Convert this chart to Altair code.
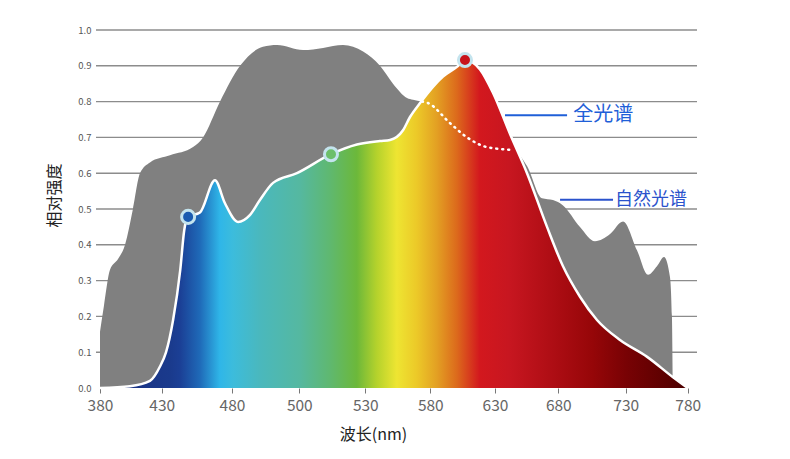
import altair as alt
import pandas as pd

# ---------------- data ----------------
tick_nm = [380, 430, 480, 500, 530, 580, 630, 680, 730, 780]
y_ticks = [0.1, 0.2, 0.3, 0.4, 0.5, 0.6, 0.7, 0.8, 0.9, 1.0]

natural_nm = [380.0, 383.2, 388.1, 394.6, 400.3, 406.7, 412.4, 420.5, 435.9, 452.3,
              459.4, 471.5, 482.4, 489.2, 493.4, 501.7, 510.8, 519.9, 529.0, 541.3,
              551.3, 562.1, 566.7, 573.6, 578.2, 595.2, 608.4, 623.8, 644.2, 655.3,
              667.1, 675.8, 683.5, 696.1, 707.2, 718.4, 728.0, 739.1, 748.0, 755.2,
              760.9, 765.7, 767.3, 768.1]
natural_val = [0.157, 0.23, 0.33, 0.36, 0.40, 0.50, 0.60, 0.63, 0.65, 0.673,
               0.70, 0.80, 0.90, 0.953, 0.958, 0.944, 0.95, 0.958, 0.94, 0.90,
               0.85, 0.81, 0.805, 0.80, 0.796, 0.74, 0.70, 0.673, 0.665, 0.62,
               0.53, 0.525, 0.51, 0.45, 0.41, 0.43, 0.465, 0.385, 0.316, 0.34,
               0.366, 0.31, 0.2, 0.0]

full_nm = [380.0, 404.3, 420.5, 428.6, 433.1, 438.1, 443.2, 446.0, 448.8, 457.2,
           467.9, 475.0, 481.8, 485.3, 488.3, 492.2, 499.3, 514.4, 526.2, 541.3,
           549.0, 559.0, 564.4, 572.1, 589.8, 600.6, 606.8, 618.4, 628.5, 641.8,
           655.3, 671.1, 683.5, 696.1, 708.7, 725.8, 747.3, 768.2, 780.0]
full_val = [0.0, 0.005, 0.02, 0.06, 0.10, 0.19, 0.33, 0.44, 0.478, 0.49,
            0.58, 0.516, 0.464, 0.483, 0.525, 0.573, 0.60, 0.653, 0.68, 0.69,
            0.693, 0.72, 0.757, 0.796, 0.87, 0.897, 0.916, 0.89, 0.824, 0.71,
            0.60, 0.45, 0.34, 0.255, 0.19, 0.134, 0.087, 0.03, 0.0]

marker_nm = [448.8, 514.4, 606.8]
marker_val = [0.478, 0.653, 0.916]

ann_text = ["全光谱", "自然光谱"]
ann_line_start = [637.9, 681.3]
ann_line_end = [686.5, 720.6]
ann_text_nm = [691.0, 722.0]
ann_val = [0.762, 0.526]

# ---------------- styles ----------------
FONT = "Noto Sans CJK SC"
marker_fill = ["#1a5bb0", "#6cbf6a", "#c8141c"]
ann_font_size = [20, 18]
ann_color = ["#1f5fd8", "#2a52cc"]
tick_px = [0, 61.7, 132, 199.3, 265.3, 330.3, 395, 458.3, 525.7, 587.7]

grad_stops = [
    (0.0, "#1a2e80"), (0.119, "#1a3a8c"), (0.136, "#1b3f95"), (0.170, "#1f6ab8"),
    (0.204, "#2fb6e8"), (0.226, "#3cbcdc"), (0.272, "#4ab8bd"), (0.340, "#55b8a0"),
    (0.391, "#5fb870"), (0.437, "#6cb83a"), (0.471, "#b5d22c"), (0.505, "#eee532"),
    (0.539, "#ecc928"), (0.573, "#e3a023"), (0.607, "#dc6a1c"), (0.646, "#d3181e"),
    (0.697, "#c71620"), (0.782, "#aa0c12"), (0.838, "#960608"), (0.896, "#780204"),
    (0.969, "#5a0000"), (1.0, "#4a0000"),
]
gradient = alt.Gradient(
    gradient="linear",
    stops=[alt.GradientStop(offset=o, color=c) for o, c in grad_stops],
    x1=0, x2=1, y1=0, y2=0,
)

# ---------------- tables ----------------
natural_df = pd.DataFrame({"nm": natural_nm, "v": natural_val})
full_df = pd.DataFrame({"nm": full_nm, "v": full_val})
marker_df = pd.DataFrame({"nm": marker_nm, "v": marker_val, "fill": marker_fill})
grid_df = pd.DataFrame({"v": y_ticks})
ann_df = pd.DataFrame({"nm": ann_line_start, "nm2": ann_line_end, "tnm": ann_text_nm,
                       "v": ann_val, "label": ann_text, "fs": ann_font_size,
                       "col": ann_color})

xscale = alt.Scale(domain=tick_nm, range=tick_px, nice=False, zero=False)
yscale = alt.Scale(domain=[0, 1], nice=False, zero=False)

xaxis = alt.Axis(values=tick_nm, format="d", title="波长(nm)", grid=False,
                 domain=False, ticks=True, tickSize=5, tickColor="#777",
                 tickWidth=1, labelFontSize=15.5, labelColor="#666",
                 labelPadding=5, labelFlush=False, labelFont=FONT, titleFont=FONT,
                 titleFontSize=16, titleFontWeight="normal", titleColor="#222",
                 titleX=273, titleY=46, titleBaseline="middle", titleAlign="center")
yaxis = alt.Axis(values=[0.0] + y_ticks, format=".1f", title="相对强度", grid=False,
                 domain=False, ticks=False, labelFontSize=9.5, labelColor="#555",
                 labelPadding=9, labelFont=FONT, titleFont=FONT, titleFontSize=16,
                 titleFontWeight="normal", titleColor="#222", titleX=-46, titleY=165,
                 titleAngle=-90, titleBaseline="middle", titleAlign="center")

X = alt.X("nm:Q", scale=xscale, axis=xaxis)
Y = alt.Y("v:Q", scale=yscale, axis=yaxis)

grid = alt.Chart(grid_df).mark_rule(color="#8c8c8c", strokeWidth=1.4).encode(
    y=Y, x=alt.value(-4), x2=alt.value(597)
)

natural = alt.Chart(natural_df).mark_area(color="#808080", interpolate="monotone").encode(
    x=X, y=Y
)

full_area = alt.Chart(full_df).mark_area(color=gradient, interpolate="monotone").encode(
    x=X, y=Y
)

full_line = alt.Chart(full_df).mark_line(color="white", strokeWidth=2.5,
                                         interpolate="monotone").encode(x=X, y=Y)

dotted = alt.Chart(natural_df).transform_filter(
    "datum.nm >= 573 && datum.nm <= 645"
).mark_line(color="white", strokeWidth=2.5, strokeDash=[1, 5], strokeCap="round",
            interpolate="monotone").encode(x=X, y=Y)

markers = alt.Chart(marker_df).mark_circle(size=170, opacity=1, stroke="#c4e4ee",
                                           strokeWidth=3).encode(
    x=X, y=Y, color=alt.Color("fill:N", scale=None)
)

ann_rules = alt.Chart(ann_df).mark_rule(strokeWidth=2).encode(
    x=X, x2=alt.X2("nm2"), y=Y, color=alt.Color("col:N", scale=None)
)

ann_texts = alt.Chart(ann_df).mark_text(align="left", baseline="middle",
                                        font=FONT).encode(
    x=alt.X("tnm:Q", scale=xscale, axis=xaxis), y=Y, text="label:N",
    size=alt.Size("fs:Q", scale=None), color=alt.Color("col:N", scale=None)
)

chart = alt.layer(grid, natural, full_area, full_line, dotted, markers, ann_rules,
                  ann_texts).properties(
    width=588, height=358,
    background="white",
    autosize=alt.AutoSizeParams(type="none"),
    padding={"left": 92, "top": 22, "right": 90, "bottom": 70},
).configure_view(stroke=None)

chart.save("out.html", embed_options={"renderer": "svg", "actions": False})
